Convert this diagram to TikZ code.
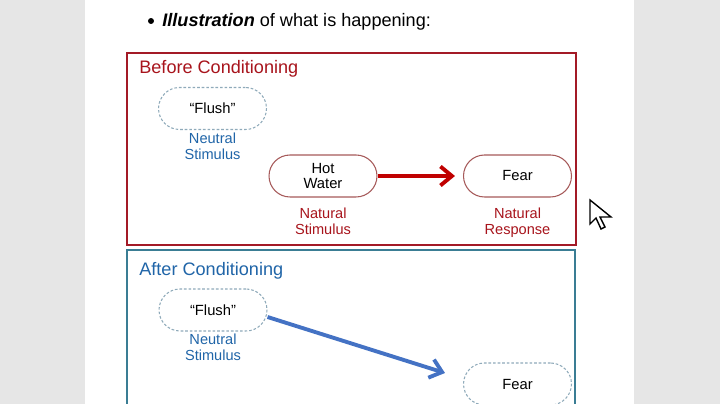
\documentclass[tikz,border=0pt]{standalone}
\usepackage{fontspec}
\setmainfont{Liberation Sans}
\usetikzlibrary{arrows.meta, positioning}
\definecolor{pagegray}{HTML}{E6E6E6}
\definecolor{cardred}{HTML}{A31A26}
\definecolor{cardblue}{HTML}{3A7D94}
\definecolor{textred}{HTML}{A8141C}
\definecolor{textblue}{HTML}{2065A8}
\definecolor{dashgray}{HTML}{8FAABA}
\definecolor{nodered}{HTML}{A65A5A}
\definecolor{arrowred}{HTML}{C00000}
\definecolor{arrowblue}{HTML}{4472C4}
\tikzstyle{pill}      = [rectangle, rounded corners=0.42cm, minimum width=2.16cm, minimum height=0.84cm,
    text centered, align=center, inner sep=0pt, font=\fontsize{8.4}{9.1}\selectfont]
\tikzstyle{solidpill} = [pill, draw=nodered, line width=0.6pt]
\tikzstyle{dashpill}  = [pill, draw=dashgray, line width=0.6pt, dash pattern=on 1.5pt off 1.1pt]
\tikzstyle{caption}   = [align=center, inner sep=0pt, font=\fontsize{8.3}{9.1}\selectfont]
\tikzstyle{heading}   = [anchor=base west, inner sep=0pt, font=\fontsize{10.3}{12}\selectfont]
\tikzstyle{arrow}     = [line width=2.2pt, -{Straight Barb[length=2.3mm, width=3.8mm]}]

\begin{document}
\begin{tikzpicture}[x=0.02cm, y=-0.02cm]
    \clip (0,0) rectangle (720,404);
    \fill[pagegray] (0,0) rectangle (720,404);
    \fill[white] (85,0) rectangle (634,404);

    \fill (151,21) circle (1.7pt);
    \node (intro)    [heading] at (162,27)   {\textbf{\textit{Illustration}} of what is happening:};

    % before conditioning
    \draw[cardred, line width=0.9pt] (127,53) rectangle (576,245);
    \node (before)   [heading, text=textred] at (139,74) {Before Conditioning};
    \node (flushA)   [dashpill] at (212.5,108.5)          {“Flush”};
    \node (neutralA) [caption, text=textblue, below=0.06cm of flushA] {Neutral\\Stimulus};
    \node (hot)      [solidpill] at (323,176)             {Hot\\Water};
    \node (natstim)  [caption, text=textred, below=0.2cm of hot]      {Natural\\Stimulus};
    \node (fearA)    [solidpill] at (517.5,176)           {Fear};
    \node (natresp)  [caption, text=textred, below=0.2cm of fearA]    {Natural\\Response};

    \draw [arrow, arrowred, shorten >=0.16cm] (hot) -- (fearA);

    % after conditioning
    \draw[cardblue, line width=0.9pt] (127,420) -- (127,250) -- (575,250) -- (575,420);
    \node (after)    [heading, text=textblue] at (139,276) {After Conditioning};
    \node (flushB)   [dashpill] at (213,310)              {“Flush”};
    \node (neutralB) [caption, text=textblue, below=0.04cm of flushB] {Neutral\\Stimulus};
    \node (fearB)    [dashpill] at (517.5,384)            {Fear};

    \draw [arrow, arrowblue] ([yshift=-0.14cm]flushB.east) -- ([xshift=-0.36cm, yshift=0.22cm]fearB.west);

    % mouse pointer
    \draw[black, fill=white, line width=0.8pt, line join=miter]
        (590,200) -- (590,224) -- (596,218) -- (601,229) -- (605,227) -- (600,217) -- (611,217) -- cycle;
\end{tikzpicture}
\end{document}
